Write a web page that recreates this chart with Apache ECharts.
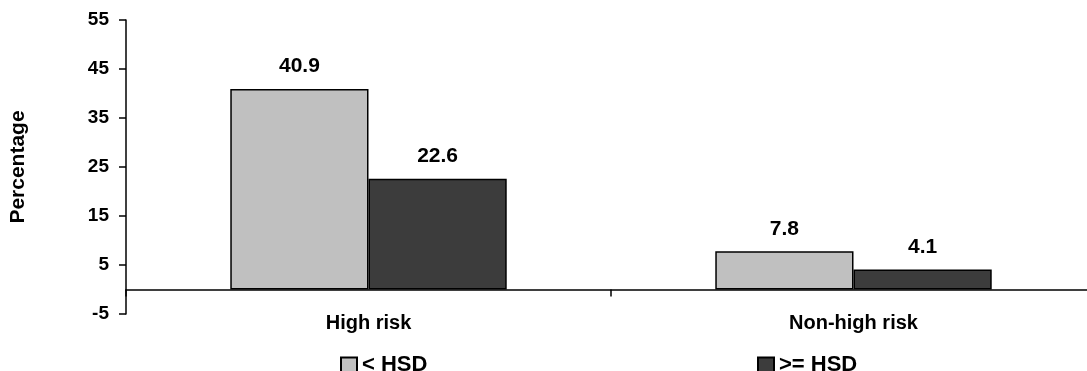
<!DOCTYPE html>
<html>
<head>
<meta charset="utf-8">
<script src="https://cdn.jsdelivr.net/npm/echarts@6/dist/echarts.min.js"></script>
<style>html,body{margin:0;padding:0;background:#fff;overflow:hidden}#c{width:1096px;height:371px}</style>
</head>
<body>
<div id="c"></div>
<script>
var categories = ['High risk', 'Non-high risk'];
var seriesNames = ['< HSD', '>= HSD'];
var lowHSD = [40.9, 7.8];
var highHSD = [22.6, 4.1];
var yTicks = [-5, 5, 15, 25, 35, 45, 55];

var FONT = '"Liberation Sans", Arial, sans-serif';
var chart = echarts.init(document.getElementById('c'));
var barLabel = {
  show: true, position: 'top', distance: 12,
  color: '#000', fontWeight: 'bold', fontSize: 21, fontFamily: FONT,
  formatter: function (p) { return p.value.toFixed(1); }
};
var legendText = { fontSize: 22, fontWeight: 'bold', color: '#000', fontFamily: FONT };
chart.setOption({
  animation: false,
  backgroundColor: '#fff',
  textStyle: { fontFamily: FONT },
  grid: { left: 124, right: 0, top: 20, bottom: 57, containLabel: false },
  legend: [
    { data: [seriesNames[0]], left: 340, top: 354, padding: 0, icon: 'rect', itemWidth: 16, itemHeight: 15, itemGap: 4, textStyle: legendText },
    { data: [seriesNames[1]], left: 757, top: 354, padding: 0, icon: 'rect', itemWidth: 16, itemHeight: 15, itemGap: 4, textStyle: legendText }
  ],
  xAxis: {
    type: 'category', data: categories,
    axisLine: { show: true, onZero: true, lineStyle: { color: '#000', width: 1.5 } },
    axisTick: { show: true, length: 7, lineStyle: { color: '#000', width: 1.5 } },
    axisLabel: { margin: -1, color: '#000', fontWeight: 'bold', fontSize: 20, fontFamily: FONT, interval: 0 },
    splitLine: { show: false }
  },
  yAxis: {
    type: 'value', min: -5, max: 55,
    name: 'Percentage', nameLocation: 'middle', nameGap: 97, nameRotate: 90,
    nameTextStyle: { color: '#000', fontWeight: 'bold', fontSize: 21, fontFamily: FONT },
    axisLine: { show: true, lineStyle: { color: '#000', width: 1.5 } },
    axisTick: { show: true, length: 7, customValues: yTicks, lineStyle: { color: '#000', width: 1.5 } },
    axisLabel: { customValues: yTicks, margin: 17, color: '#000', fontWeight: 'bold', fontSize: 19, fontFamily: FONT },
    splitLine: { show: false }
  },
  series: [
    { name: seriesNames[0], type: 'bar', data: lowHSD, barGap: '0%', barCategoryGap: '43%',
      itemStyle: { color: '#C0C0C0', borderColor: '#000', borderWidth: 1.5 }, label: barLabel },
    { name: seriesNames[1], type: 'bar', data: highHSD, barGap: '0%', barCategoryGap: '43%',
      itemStyle: { color: '#3C3C3C', borderColor: '#000', borderWidth: 1.5 }, label: barLabel }
  ]
});
</script>
</body>
</html>
